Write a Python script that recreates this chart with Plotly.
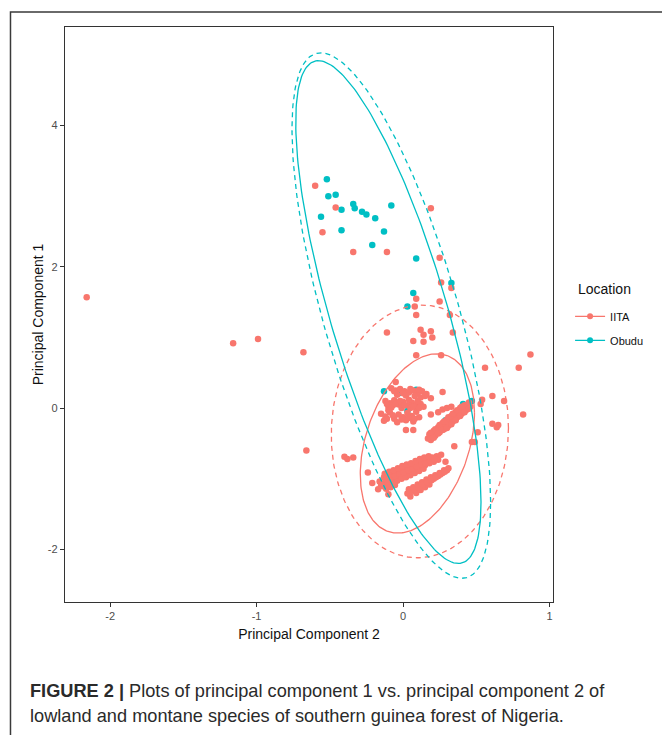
import numpy as np
import plotly.graph_objects as go

# ---------------- data ----------------
obudu_x = [-0.52, -0.51, -0.46, -0.42, -0.56, -0.34, -0.33, -0.28, -0.25, -0.19,
           -0.08, -0.42, -0.13, -0.21, 0.09, 0.33, 0.07, 0.03,
           -0.13, -0.03, 0.09, 0.03, 0.29, 0.41, 0.47]
obudu_y = [3.24, 3.00, 3.02, 2.81, 2.71, 2.89, 2.83, 2.78, 2.74, 2.69,
           2.87, 2.52, 2.50, 2.31, 2.12, 1.77, 1.63, 1.44,
           0.24, 0.21, 0.26, -0.04, -0.17, 0.06, 0.10]

# scattered IITA points
iita_scatter_x = [-2.16, -1.16, -0.99, -0.68, -0.66, -0.40, -0.38, -0.34, -0.24,
                  -0.60, -0.46, -0.55, -0.34, -0.11, 0.19, 0.25, 0.26, 0.33,
                  0.09, 0.08, 0.09, 0.25, 0.32,
                  -0.11, 0.12, 0.14, 0.19, 0.20, 0.07, 0.14, 0.34,
                  0.09, 0.26, 0.87, 0.56, 0.79, -0.05, 0.27, 0.61, 0.69,
                  0.54, 0.53, 0.82, 0.61, 0.65, 0.64, 0.19, 0.19, 0.02, 0.07,
                  0.35, 0.47, 0.51, 0.49, -0.21, -0.17, -0.10, 0.29]
iita_scatter_y = [1.57, 0.92, 0.98, 0.79, -0.60, -0.69, -0.72, -0.70, -0.91,
                  3.15, 2.84, 2.49, 2.21, 2.21, 2.83, 2.13, 1.78, 1.70,
                  1.55, 1.44, 1.32, 1.51, 1.32,
                  1.07, 1.11, 1.04, 1.09, 1.00, 0.95, 0.94, 1.07,
                  0.75, 0.75, 0.76, 0.57, 0.57, 0.37, 0.23, 0.17, 0.10,
                  0.12, 0.06, -0.09, -0.22, -0.24, -0.27, 0.14, -0.09, -0.31, -0.31,
                  -0.54, -0.48, -0.34, -0.48, -1.06, -1.15, -1.22, -0.76]

# dense IITA cluster, upper-left
iita_a_x = [-0.08, -0.05, -0.02, 0.01, 0.04, 0.07, 0.10, 0.13, 0.16, 0.02, -0.04, 0.08, 0.12,
            -0.12, -0.09, -0.06, -0.03, 0.00, 0.03, 0.06, 0.09, 0.12, -0.10, -0.01, 0.05, 0.10, -0.07, 0.14,
            -0.15, -0.12, -0.09, -0.06, -0.03, 0.00, 0.03, 0.06, 0.09, -0.13, -0.04, 0.02, 0.07, 0.11, -0.10,
            -0.11, -0.08, -0.05, -0.02, 0.01, 0.04, 0.07, 0.11, -0.11, -0.07, -0.01, 0.04, 0.08,
            -0.06, 0.00, 0.05, 0.11, 0.15]
iita_a_y = [0.28, 0.25, 0.27, 0.24, 0.22, 0.25, 0.21, 0.24, 0.20, 0.18, 0.19, 0.17, 0.15,
            0.10, 0.07, 0.11, 0.05, 0.09, 0.04, 0.08, 0.03, 0.06, 0.02, 0.00, 0.00, 0.10, 0.04, 0.02,
            -0.08, -0.12, -0.06, -0.15, -0.09, -0.13, -0.07, -0.11, -0.05, -0.18, -0.20, -0.17, -0.19, -0.13, -0.03,
            0.06, 0.01, 0.06, 0.10, 0.04, 0.12, 0.02, 0.00, -0.15, -0.10, -0.16, -0.14, -0.15,
            0.24, 0.21, 0.27, 0.26, 0.17]

# dense IITA cluster, right diagonal band
iita_b_x = [0.17, 0.18, 0.20, 0.21, 0.19, 0.23, 0.24, 0.22, 0.26, 0.27, 0.25, 0.28,
            0.29, 0.30, 0.28, 0.31, 0.32, 0.33, 0.31, 0.34, 0.35, 0.36, 0.34, 0.37,
            0.38, 0.39, 0.40, 0.41, 0.42, 0.43, 0.44, 0.45, 0.46, 0.27, 0.30, 0.33, 0.24,
            0.19, 0.22, 0.25, 0.28, 0.31, 0.34, 0.37, 0.40, 0.21, 0.24, 0.27, 0.30, 0.33,
            0.36, 0.39, 0.42, 0.45]
iita_b_y = [-0.43, -0.37, -0.38, -0.32, -0.45, -0.33, -0.27, -0.39, -0.27, -0.21, -0.34, -0.30,
            -0.22, -0.16, -0.26, -0.25, -0.17, -0.11, -0.21, -0.19, -0.11, -0.05, -0.14, -0.13,
            -0.06, 0.00, -0.08, -0.01, 0.04, -0.03, 0.04, 0.08, 0.02, -0.02, 0.00, 0.02, -0.06,
            -0.35, -0.30, -0.24, -0.19, -0.13, -0.08, -0.03, 0.02, -0.42, -0.36, -0.31, -0.28, -0.23,
            -0.17, -0.11, -0.06, -0.01]

# dense IITA cluster, lower band
iita_c_x = [-0.16, -0.15, -0.13, -0.12, -0.13, -0.10, -0.09, -0.10, -0.07, -0.06, -0.07,
            -0.04, -0.03, -0.04, -0.01, 0.00, -0.01, 0.02, 0.03, 0.02, 0.05, 0.06, 0.05,
            0.08, 0.09, 0.08, 0.11, 0.12, 0.11, 0.14, 0.15, 0.14, 0.17, 0.18, 0.20, 0.21,
            0.23, 0.24, 0.26,
            -0.145, -0.115, -0.085, -0.055, -0.025, 0.005, 0.035, 0.065, 0.095, 0.125, 0.155, 0.185, 0.215,
            -0.125, -0.095, -0.065, -0.035, -0.005, 0.025, 0.055, 0.085, 0.115, 0.145, 0.175,
            -0.115, -0.085, -0.055]
iita_c_y = [-1.04, -1.10, -0.98, -1.05, -1.11, -0.95, -1.02, -1.08, -0.93, -0.99, -1.06,
            -0.90, -0.97, -1.03, -0.87, -0.94, -1.00, -0.85, -0.91, -0.98, -0.82, -0.89, -0.95,
            -0.80, -0.86, -0.92, -0.77, -0.84, -0.89, -0.75, -0.81, -0.86, -0.73, -0.78, -0.70, -0.76,
            -0.68, -0.73, -0.66,
            -1.07, -1.01, -0.98, -0.96, -0.93, -0.91, -0.88, -0.86, -0.83, -0.80, -0.78, -0.75, -0.72,
            -0.93, -0.90, -0.88, -0.85, -0.82, -0.80, -0.78, -0.75, -0.72, -0.70, -0.68,
            -1.14, -1.12, -1.09]

# dense IITA cluster, lowest band
iita_d_x = [0.03, 0.04, 0.06, 0.07, 0.05, 0.09, 0.10, 0.09, 0.12, 0.13, 0.12, 0.15, 0.16, 0.15,
            0.18, 0.19, 0.18, 0.21, 0.22, 0.24, 0.25, 0.27, 0.28, 0.30, 0.31,
            0.045, 0.075, 0.105, 0.135, 0.165, 0.195, 0.225, 0.255, 0.285]
iita_d_y = [-1.21, -1.15, -1.17, -1.12, -1.25, -1.14, -1.08, -1.20, -1.10, -1.05, -1.16, -1.07, -1.01, -1.12,
            -1.03, -0.98, -1.08, -1.00, -0.95, -0.96, -0.92, -0.92, -0.88, -0.88, -0.85,
            -1.19, -1.15, -1.12, -1.08, -1.05, -1.02, -0.98, -0.94, -0.90]

iita_x = iita_scatter_x + iita_a_x + iita_b_x + iita_c_x + iita_d_x
iita_y = iita_scatter_y + iita_a_y + iita_b_y + iita_c_y + iita_d_y

# ellipse parameters (centre, covariance-like shape)
ell_iita_t_center = [0.098, -0.50]
ell_iita_t_shape = [[0.152, 0.17], [0.17, 1.61]]
ell_iita_n_center = [0.115, -0.33]
ell_iita_n_shape = [[0.366, 0.03], [0.03, 3.2]]
ell_obudu_t_center = [-0.10, 1.36]
ell_obudu_t_shape = [[0.40, -1.70], [-1.70, 12.67]]
ell_obudu_n_center = [-0.08, 1.31]
ell_obudu_n_shape = [[0.46, -1.79], [-1.79, 13.84]]

x_ticks = [-2, -1, 0, 1]
x_ticktext = ["-2", "-1", "0", "1"]
y_ticks = [-2, 0, 2, 4]
y_ticktext = ["-2", "0", "2", "4"]

groups = ["IITA", "Obudu"]
colors = {"IITA": "#F8766D", "Obudu": "#00BFC4"}


def ellipse(center, shape, n=240):
    t = np.linspace(0, 2 * np.pi, n)
    L = np.linalg.cholesky(np.array(shape))
    pts = np.array(center)[:, None] + L @ np.vstack([np.cos(t), np.sin(t)])
    return pts[0], pts[1]


fig = go.Figure()

fig.add_trace(go.Scatter(x=obudu_x, y=obudu_y, mode="markers", showlegend=False,
                         marker=dict(color=colors["Obudu"], size=6.5)))
fig.add_trace(go.Scatter(x=iita_x, y=iita_y, mode="markers", showlegend=False,
                         marker=dict(color=colors["IITA"], size=6.5)))

for name, c, s, dash in [
    ("IITA", ell_iita_t_center, ell_iita_t_shape, "solid"),
    ("IITA", ell_iita_n_center, ell_iita_n_shape, "5px,4px"),
    ("Obudu", ell_obudu_t_center, ell_obudu_t_shape, "solid"),
    ("Obudu", ell_obudu_n_center, ell_obudu_n_shape, "5px,4px"),
]:
    ex, ey = ellipse(c, s)
    fig.add_trace(go.Scatter(x=ex, y=ey, mode="lines", showlegend=False,
                             line=dict(color=colors[name], width=1.3, dash=dash)))

# legend entries
for g in groups:
    fig.add_trace(go.Scatter(x=[None], y=[None], mode="lines+markers", name=g,
                             legendgroup=g,
                             line=dict(color=colors[g], width=1.3),
                             marker=dict(color=colors[g], size=6)))

axis_common = dict(showgrid=False, zeroline=False, showline=True, mirror=True,
                   linecolor="#333333", linewidth=1.3, ticks="outside", ticklen=4,
                   tickcolor="#333333", tickwidth=1.1,
                   tickfont=dict(family="Liberation Sans", size=11, color="#4D4D4D"))

# the page body adds an 8px offset; the figure is sized/margined to compensate
fig.update_layout(
    width=662, height=727,
    margin=dict(l=57, r=117, t=19, b=133),
    paper_bgcolor="white", plot_bgcolor="white",
    font=dict(family="Liberation Sans", color="#000000"),
    xaxis=dict(range=[-2.308, 1.024], tickvals=x_ticks, ticktext=x_ticktext,
               title=dict(text="Principal Component 2", font=dict(size=14, color="#111111"), standoff=7),
               **axis_common),
    yaxis=dict(range=[-2.745, 5.396], tickvals=y_ticks, ticktext=y_ticktext,
               title=dict(text="Principal Component 1", font=dict(size=14, color="#111111"), standoff=0),
               **axis_common),
    legend=dict(x=1.035, y=0.522, xanchor="left", yanchor="top",
                font=dict(size=11, color="#111111"), bgcolor="rgba(0,0,0,0)",
                tracegroupgap=5),
    shapes=[dict(type="rect", xref="paper", yref="paper",
                 x0=-0.1117, x1=1.2346, y0=-0.26, y1=1.026,
                 line=dict(color="#3a3a3a", width=1.5), layer="below")],
    annotations=[
        dict(xref="paper", yref="paper", x=1.047, y=0.5443, xanchor="left", yanchor="middle",
             showarrow=False, text="Location", font=dict(size=14, color="#111111")),
        dict(xref="paper", yref="paper", x=-0.0758, y=-0.1548, xanchor="left", yanchor="middle",
             showarrow=False, align="left",
             text="<b>FIGURE 2 |</b> Plots of principal component 1 vs. principal component 2 of",
             font=dict(family="Liberation Sans", size=18.2, color="#2a2a2a")),
        dict(xref="paper", yref="paper", x=-0.0758, y=-0.198, xanchor="left", yanchor="middle",
             showarrow=False, align="left",
             text="lowland and montane species of southern guinea forest of Nigeria.",
             font=dict(family="Liberation Sans", size=18.2, color="#2a2a2a")),
    ],
)

fig.write_html("out.html")
